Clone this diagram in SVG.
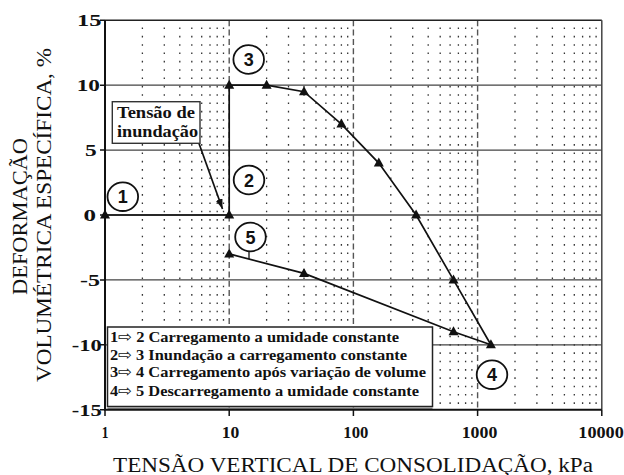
<svg xmlns="http://www.w3.org/2000/svg" width="624" height="475" viewBox="0 0 624 475">
<style>
.minor{stroke:#333;stroke-width:1.3;stroke-dasharray:1.6 6.73;fill:none}
.major{stroke:#555;stroke-width:1.4;stroke-dasharray:6 3.3;fill:none}
.hgrid{stroke:#444;stroke-width:1.3;fill:none}
.data{stroke:#111;stroke-width:1.7;fill:none}
.circ{fill:#fff;stroke:#111;stroke-width:1.8}
.ax{stroke:#111;stroke-width:2;fill:none}
</style>
<defs>
<path id="tri" d="M0,-5.5 L5,3.5 L-5,3.5 Z" fill="#111"/>
<marker id="ah" viewBox="0 0 10 7" refX="10" refY="3.5" markerWidth="10" markerHeight="7" markerUnits="userSpaceOnUse" orient="auto">
<path d="M0,0 L10,3.5 L0,7 Z" fill="#111"/>
</marker>
</defs>
<rect width="624" height="475" fill="#fff"/>
<g id="grid">
<g class="minor">
<path d="M142.4,27.5V409.7M164.3,27.5V409.7M179.8,27.5V409.7M191.8,27.5V409.7M201.7,27.5V409.7M210,27.5V409.7M217.2,27.5V409.7M223.5,27.5V409.7"/>
<path d="M266.6,27.5V409.7M288.5,27.5V409.7M304,27.5V409.7M316,27.5V409.7M325.9,27.5V409.7M334.2,27.5V409.7M341.4,27.5V409.7M347.7,27.5V409.7"/>
<path d="M390.8,27.5V409.7M412.7,27.5V409.7M428.2,27.5V409.7M440.2,27.5V409.7M450.1,27.5V409.7M458.4,27.5V409.7M465.6,27.5V409.7M471.9,27.5V409.7"/>
<path d="M515,27.5V409.7M536.9,27.5V409.7M552.4,27.5V409.7M564.4,27.5V409.7M574.3,27.5V409.7M582.6,27.5V409.7M589.8,27.5V409.7M596.1,27.5V409.7"/>
</g>
<path class="major" d="M229.2,20.3V409.7M353.4,20.3V409.7M477.6,20.3V409.7"/>
<path class="hgrid" d="M105,85.2H601.8M105,150.1H601.8M105,215H601.8M105,279.9H601.8M105,344.8H601.8"/>
<path d="M105,20.3H601.8" stroke="#222" stroke-width="1.6"/>
<path d="M601.8,20.3V409.7" stroke="#444" stroke-width="1.5"/>
</g>
<g id="axes">
<path class="ax" d="M105,20.3V409.7H601.8"/>
<path d="M100,20.3H105M100,85.2H105M100,150.1H105M100,215H105M100,279.9H105M100,344.8H105M100,409.7H105M105,409.7V416M229.2,409.7V416M353.4,409.7V416M477.6,409.7V416M601.8,409.7V416" stroke="#111" stroke-width="1.5"/>
<text x="77" y="26.3" font-family="Liberation Serif" font-weight="bold" font-size="17" fill="#111" textLength="24.5" lengthAdjust="spacingAndGlyphs">15</text>
<text x="76.7" y="91.2" font-family="Liberation Serif" font-weight="bold" font-size="17" fill="#111" textLength="23.3" lengthAdjust="spacingAndGlyphs">10</text>
<text x="85" y="156.1" font-family="Liberation Serif" font-weight="bold" font-size="17" fill="#111" textLength="11.7" lengthAdjust="spacingAndGlyphs">5</text>
<text x="83.5" y="221" font-family="Liberation Serif" font-weight="bold" font-size="17" fill="#111" textLength="12.5" lengthAdjust="spacingAndGlyphs">0</text>
<text x="80" y="285.9" font-family="Liberation Serif" font-weight="bold" font-size="17" fill="#111" textLength="20" lengthAdjust="spacingAndGlyphs">-5</text>
<text x="71.7" y="350.8" font-family="Liberation Serif" font-weight="bold" font-size="17" fill="#111" textLength="30" lengthAdjust="spacingAndGlyphs">-10</text>
<text x="71.7" y="415.7" font-family="Liberation Serif" font-weight="bold" font-size="17" fill="#111" textLength="30" lengthAdjust="spacingAndGlyphs">-15</text>
<text x="101.7" y="438" font-family="Liberation Serif" font-weight="bold" font-size="17" fill="#111" textLength="6.7" lengthAdjust="spacingAndGlyphs">1</text>
<text x="221.7" y="438" font-family="Liberation Serif" font-weight="bold" font-size="17" fill="#111" textLength="17.6" lengthAdjust="spacingAndGlyphs">10</text>
<text x="343.3" y="438" font-family="Liberation Serif" font-weight="bold" font-size="17" fill="#111" textLength="25" lengthAdjust="spacingAndGlyphs">100</text>
<text x="461.7" y="438" font-family="Liberation Serif" font-weight="bold" font-size="17" fill="#111" textLength="35.6" lengthAdjust="spacingAndGlyphs">1000</text>
<text x="578.3" y="438" font-family="Liberation Serif" font-weight="bold" font-size="17" fill="#111" textLength="45.5" lengthAdjust="spacingAndGlyphs">10000</text>
<text x="353" y="471.5" font-family="Liberation Serif" font-size="20" fill="#111" text-anchor="middle" textLength="480" lengthAdjust="spacingAndGlyphs">TENSÃO VERTICAL DE CONSOLIDAÇÃO, kPa</text>
<text transform="translate(26.5,216.5) rotate(-90)" font-family="Liberation Serif" font-size="20" fill="#111" text-anchor="middle" textLength="157" lengthAdjust="spacingAndGlyphs">DEFORMAÇÃO</text>
<text transform="translate(51,215) rotate(-90)" font-family="Liberation Serif" font-size="20" fill="#111" text-anchor="middle" textLength="334" lengthAdjust="spacingAndGlyphs">VOLUMÉTRICA ESPECÍFICA, %</text>
</g>
<g id="legend">
<rect x="107.5" y="327" width="325" height="79.5" fill="#fff" stroke="#222" stroke-width="1.5"/>
<path d="M107.5,408.2H432.5" stroke="#444" stroke-width="1"/>
<text x="110" y="341.7" font-family="Liberation Serif" font-weight="bold" font-size="15" fill="#111" textLength="289" lengthAdjust="spacingAndGlyphs">1<tspan font-family="DejaVu Sans" font-weight="normal">⇨</tspan> 2 Carregamento a umidade constante</text>
<text x="110" y="359.5" font-family="Liberation Serif" font-weight="bold" font-size="15" fill="#111" textLength="297" lengthAdjust="spacingAndGlyphs">2<tspan font-family="DejaVu Sans" font-weight="normal">⇨</tspan> 3 Inundação a carregamento constante</text>
<text x="110" y="377.3" font-family="Liberation Serif" font-weight="bold" font-size="15" fill="#111" textLength="316" lengthAdjust="spacingAndGlyphs">3<tspan font-family="DejaVu Sans" font-weight="normal">⇨</tspan> 4 Carregamento após variação de volume</text>
<text x="110" y="395.7" font-family="Liberation Serif" font-weight="bold" font-size="15" fill="#111" textLength="309" lengthAdjust="spacingAndGlyphs">4<tspan font-family="DejaVu Sans" font-weight="normal">⇨</tspan> 5 Descarregamento a umidade constante</text>
</g>
<g id="connectors">
<polyline class="data" points="105,215 229.2,215 229.2,85.2 266.6,85.2 304,91.7 341.4,124.1 378.8,163.1 416.1,215 453.5,279.9 490.9,344.8 453.5,331.8 304,273.4 229.2,253.9"/>
<path d="M249,251V259" stroke="#111" stroke-width="1.3"/>
<line x1="199" y1="143.5" x2="222.5" y2="209" stroke="#111" stroke-width="1.7" marker-end="url(#ah)"/>
</g>
<g id="points">
<use href="#tri" x="105" y="215"/>
<use href="#tri" x="229.2" y="215"/>
<use href="#tri" x="229.2" y="85.2"/>
<use href="#tri" x="266.6" y="85.2"/>
<use href="#tri" x="304" y="91.7"/>
<use href="#tri" x="341.4" y="124.1"/>
<use href="#tri" x="378.8" y="163.1"/>
<use href="#tri" x="416.1" y="215"/>
<use href="#tri" x="453.5" y="279.9"/>
<use href="#tri" x="490.9" y="344.8"/>
<use href="#tri" x="453.5" y="331.8"/>
<use href="#tri" x="304" y="273.4"/>
<use href="#tri" x="229.2" y="253.9"/>
</g>
<g id="node-tensao">
<rect x="112.3" y="101.7" width="87.7" height="41.6" fill="#fff" stroke="#333" stroke-width="1.4"/>
<text x="156" y="117.5" font-family="Liberation Serif" font-weight="bold" font-size="17" fill="#111" text-anchor="middle" textLength="78" lengthAdjust="spacingAndGlyphs">Tensão de</text>
<text x="157.5" y="137.3" font-family="Liberation Serif" font-weight="bold" font-size="17" fill="#111" text-anchor="middle" textLength="81" lengthAdjust="spacingAndGlyphs">inundação</text>
</g>
<g id="node-1"><ellipse class="circ" cx="122.8" cy="196.7" rx="15.3" ry="14.3"/><text x="122.8" y="203.2" font-family="Liberation Sans, Arial, sans-serif" font-weight="bold" font-size="18" fill="#111" text-anchor="middle">1</text></g>
<g id="node-2"><ellipse class="circ" cx="249" cy="180" rx="15.3" ry="14.3"/><text x="249" y="186.5" font-family="Liberation Sans, Arial, sans-serif" font-weight="bold" font-size="18" fill="#111" text-anchor="middle">2</text></g>
<g id="node-3"><ellipse class="circ" cx="248.7" cy="59.5" rx="15.3" ry="14.3"/><text x="248.7" y="66" font-family="Liberation Sans, Arial, sans-serif" font-weight="bold" font-size="18" fill="#111" text-anchor="middle">3</text></g>
<g id="node-4"><ellipse class="circ" cx="492" cy="374.7" rx="15.3" ry="14.3"/><text x="492" y="381.2" font-family="Liberation Sans, Arial, sans-serif" font-weight="bold" font-size="18" fill="#111" text-anchor="middle">4</text></g>
<g id="node-5"><ellipse class="circ" cx="250.5" cy="237" rx="15.3" ry="14.3"/><text x="250.5" y="243.5" font-family="Liberation Sans, Arial, sans-serif" font-weight="bold" font-size="18" fill="#111" text-anchor="middle">5</text></g>
</svg>
